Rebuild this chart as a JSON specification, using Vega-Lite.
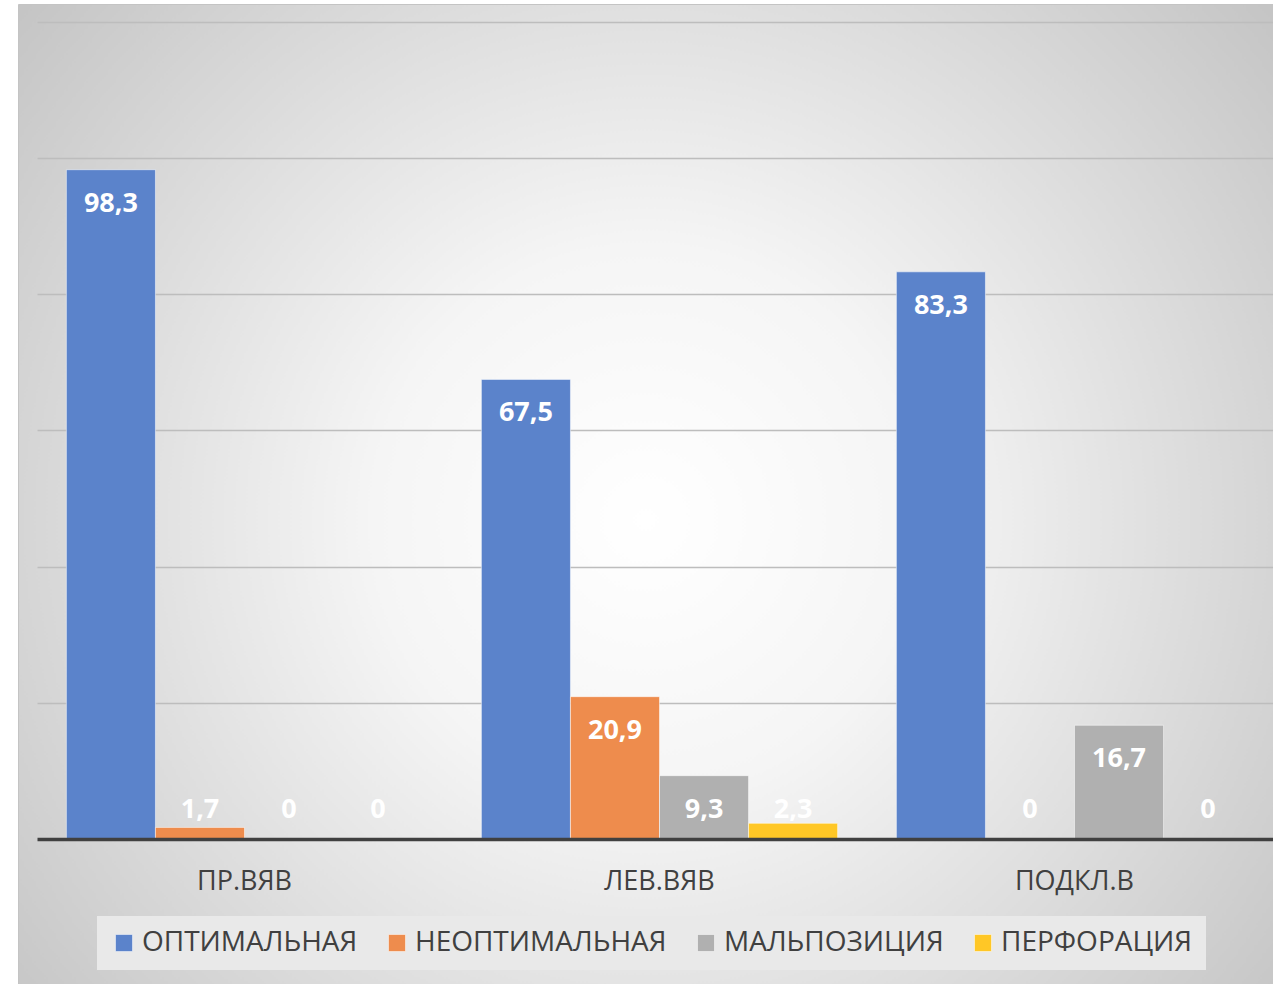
{
  "$schema": "https://vega.github.io/schema/vega-lite/v6.json",
  "autosize": {"type": "none"},
  "padding": {"left": 18, "top": 4, "right": 0, "bottom": 0},
  "width": 1255,
  "height": 980,
  "background": "white",
  "data": {
    "values": [
      {"cat": "ПР.ВЯВ", "series": "ОПТИМАЛЬНАЯ", "value": 98.3},
      {"cat": "ПР.ВЯВ", "series": "НЕОПТИМАЛЬНАЯ", "value": 1.7},
      {"cat": "ПР.ВЯВ", "series": "МАЛЬПОЗИЦИЯ", "value": 0},
      {"cat": "ПР.ВЯВ", "series": "ПЕРФОРАЦИЯ", "value": 0},
      {"cat": "ЛЕВ.ВЯВ", "series": "ОПТИМАЛЬНАЯ", "value": 67.5},
      {"cat": "ЛЕВ.ВЯВ", "series": "НЕОПТИМАЛЬНАЯ", "value": 20.9},
      {"cat": "ЛЕВ.ВЯВ", "series": "МАЛЬПОЗИЦИЯ", "value": 9.3},
      {"cat": "ЛЕВ.ВЯВ", "series": "ПЕРФОРАЦИЯ", "value": 2.3},
      {"cat": "ПОДКЛ.В", "series": "ОПТИМАЛЬНАЯ", "value": 83.3},
      {"cat": "ПОДКЛ.В", "series": "НЕОПТИМАЛЬНАЯ", "value": 0},
      {"cat": "ПОДКЛ.В", "series": "МАЛЬПОЗИЦИЯ", "value": 16.7},
      {"cat": "ПОДКЛ.В", "series": "ПЕРФОРАЦИЯ", "value": 0}
    ]
  },
  "encoding": {
    "x": {
      "field": "cat",
      "type": "nominal",
      "sort": ["ПР.ВЯВ", "ЛЕВ.ВЯВ", "ПОДКЛ.В"],
      "scale": {"range": [19, 1264], "paddingInner": 0, "paddingOuter": 0},
      "axis": {
        "title": null,
        "orient": "bottom",
        "offset": -145,
        "labelAngle": 0,
        "ticks": false,
        "domainColor": "#404040",
        "domainWidth": 3.5,
        "labelFontSize": 27,
        "labelColor": "#404040",
        "labelPadding": 29,
        "labelBaseline": "top",
        "grid": false,
        "zindex": 1
      }
    },
    "xOffset": {
      "field": "series",
      "type": "nominal",
      "sort": ["ОПТИМАЛЬНАЯ", "НЕОПТИМАЛЬНАЯ", "МАЛЬПОЗИЦИЯ", "ПЕРФОРАЦИЯ"],
      "scale": {"paddingInner": 0, "paddingOuter": 0.33}
    }
  },
  "layer": [
    {
      "mark": {"type": "bar", "stroke": "#ffffff", "strokeOpacity": 0.5, "strokeWidth": 1},
      "encoding": {
        "y": {
          "field": "value",
          "type": "quantitative",
          "scale": {"domain": [-21.3, 122.64], "nice": false, "zero": false},
          "axis": {
            "title": null,
            "labels": false,
            "ticks": false,
            "domain": false,
            "grid": true,
            "values": [20, 40, 60, 80, 100, 120],
            "gridColor": "#bdbdbd",
            "gridWidth": 1.5
          }
        },
        "color": {
          "field": "series",
          "type": "nominal",
          "sort": ["ОПТИМАЛЬНАЯ", "НЕОПТИМАЛЬНАЯ", "МАЛЬПОЗИЦИЯ", "ПЕРФОРАЦИЯ"],
          "scale": {
            "domain": ["ОПТИМАЛЬНАЯ", "НЕОПТИМАЛЬНАЯ", "МАЛЬПОЗИЦИЯ", "ПЕРФОРАЦИЯ"],
            "range": ["#5b83cb", "#ee8c4d", "#b0b0b0", "#ffc726"]
          },
          "legend": {
            "title": null,
            "orient": "none",
            "direction": "horizontal",
            "legendX": 79,
            "legendY": 912,
            "fillColor": "#e9e9e9",
            "padding": 13,
            "symbolType": "square",
            "symbolSize": 289,
            "symbolStrokeColor": "#ffffff",
            "symbolStrokeWidth": 0.5,
            "symbolOpacity": 1,
            "labelFontSize": 28,
            "labelColor": "#404040",
            "labelLimit": 500,
            "labelOffset": 4,
            "columnPadding": 25
          }
        }
      }
    },
    {
      "transform": [{"filter": "datum.value >= 9"}],
      "mark": {"type": "text", "color": "white", "fontWeight": "bold", "fontSize": 27, "baseline": "middle", "dy": 34},
      "encoding": {
        "y": {"field": "value", "type": "quantitative"},
        "text": {"field": "value", "type": "quantitative", "format": ".1~f"}
      }
    },
    {
      "transform": [{"filter": "datum.value < 9"}],
      "mark": {"type": "text", "color": "white", "fontWeight": "bold", "fontSize": 27, "baseline": "middle"},
      "encoding": {
        "y": {"datum": 4.3, "type": "quantitative"},
        "text": {"field": "value", "type": "quantitative", "format": ".1~f"}
      }
    }
  ],
  "config": {
    "font": "Open Sans",
    "locale": {
      "number": {"decimal": ",", "thousands": " ", "grouping": [3], "currency": ["", ""]}
    },
    "view": {
      "fill": {
        "gradient": "radial",
        "x1": 0.5, "y1": 0.52, "r1": 0,
        "x2": 0.5, "y2": 0.52, "r2": 0.72,
        "stops": [
          {"offset": 0, "color": "#ffffff"},
          {"offset": 0.3, "color": "#f5f5f5"},
          {"offset": 1, "color": "#bcbcbc"}
        ]
      },
      "stroke": "#c4c4c4",
      "strokeWidth": 1
    }
  }
}
